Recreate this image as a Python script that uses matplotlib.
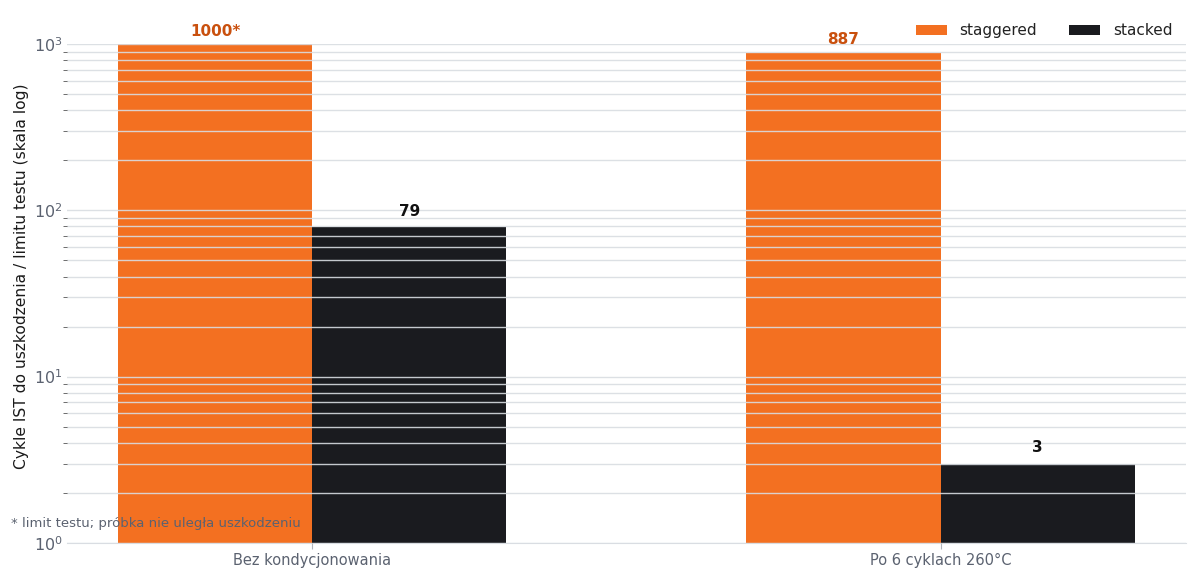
import numpy as np
import matplotlib
matplotlib.use("Agg")
from matplotlib import pyplot as plt

categories = ["Bez kondycjonowania", "Po 6 cyklach 260°C"]
staggered = [1000, 887]
stacked = [79, 3]
staggered_labels = ["1000*", "887"]
stacked_labels = ["79", "3"]

orange = "#F37021"
dark = "#1A1B1F"
grey = "#5B6270"

fig = plt.figure(figsize=(12, 5.8), dpi=100)
ax = fig.add_axes([0.056, 0.064, 0.932, 0.860])

x = np.arange(len(categories))
w = 0.309
b1 = ax.bar(x - w / 2, staggered, w, color=orange, label="staggered", zorder=1)
b2 = ax.bar(x + w / 2, stacked, w, color=dark, label="stacked", zorder=1)

ax.set_yscale("log")
ax.set_ylim(1, 1000)
ax.set_xlim(-0.39, 1.39)

for rect, lab in zip(b1, staggered_labels):
    ax.annotate(lab, (rect.get_x() + rect.get_width() / 2, rect.get_height()),
                xytext=(0, 4), textcoords="offset points", ha="center", va="bottom",
                fontsize=11, fontweight="bold", color="#C9500E")
for rect, lab in zip(b2, stacked_labels):
    ax.annotate(lab, (rect.get_x() + rect.get_width() / 2, rect.get_height()),
                xytext=(0, 6), textcoords="offset points", ha="center", va="bottom",
                fontsize=11, fontweight="bold", color="#111111")

ax.grid(True, which="both", axis="y", color="#D9DDE2", linewidth=1, alpha=0.9, zorder=3)
ax.set_axisbelow(False)

ax.set_xticks(x)
ax.set_xticklabels(categories)
ax.tick_params(axis="x", colors=grey, labelsize=10.5, length=4, color="#B0B4BA")
ax.tick_params(axis="y", which="major", colors=grey, labelsize=11.5, length=0)
ax.tick_params(axis="y", which="minor", length=3, color="#555555")

for s in ["top", "right", "left"]:
    ax.spines[s].set_visible(False)
ax.spines["bottom"].set_color("#D9DDE2")

ax.set_ylabel("Cykle IST do uszkodzenia / limitu testu (skala log)", fontsize=11.2,
              color="#1a1a1a")
ax.yaxis.set_label_coords(-0.034, 0.535)

ax.legend(loc="center right", bbox_to_anchor=(0.995, 1.027), ncol=2, frameon=False,
          fontsize=11, handlelength=2.0, handleheight=0.65, handletextpad=0.85,
          columnspacing=2.1, labelcolor="#222222", borderpad=0)

fig.text(0.009, 0.098, "* limit testu; próbka nie uległa uszkodzeniu", fontsize=9.5,
         color=grey, ha="left", va="center")

fig.savefig("out.png", dpi=100)
